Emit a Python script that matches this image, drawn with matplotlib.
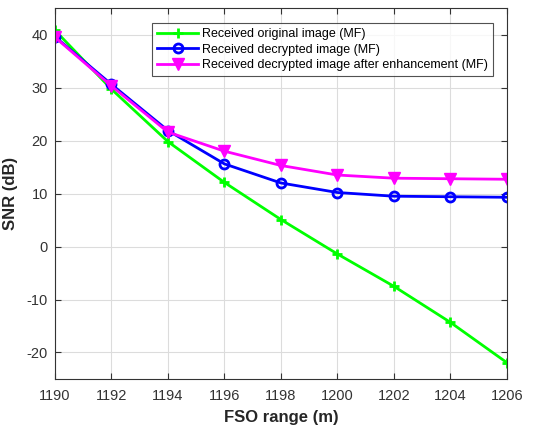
import matplotlib
matplotlib.use("Agg")
import matplotlib.pyplot as plt

plt.rcParams["font.family"] = ["Liberation Sans", "DejaVu Sans"]
plt.rcParams["axes.unicode_minus"] = False

x = [1190, 1192, 1194, 1196, 1198, 1200, 1202, 1204, 1206]
snr_original = [40.8, 29.7, 19.8, 12.1, 5.1, -1.4, -7.5, -14.3, -21.9]
snr_decrypted = [39.6, 30.6, 21.9, 15.6, 12.0, 10.2, 9.5, 9.4, 9.3]
snr_enhanced = [39.5, 30.3, 21.6, 18.0, 15.3, 13.5, 12.9, 12.8, 12.7]
labels = ["Received original image (MF)",
          "Received decrypted image (MF)",
          "Received decrypted image after enhancement (MF)"]

fig = plt.figure(figsize=(5.42, 4.29), dpi=100)
ax = fig.add_axes([0.1015, 0.1166, 0.8335, 0.8644])

ax.plot(x, snr_original, color="#00ff00", lw=2, marker="+", ms=7, mew=2, label=labels[0])
ax.plot(x, snr_decrypted, color="#0000ff", lw=2, marker="o", ms=6.5, mew=2, mfc="none", label=labels[1])
ax.plot(x, snr_enhanced, color="#ff00ff", lw=2, marker="v", ms=8, mfc="#ff00ff", label=labels[2])

ax.set_xlim(1190, 1206)
ax.set_ylim(-25, 45)
ax.set_xticks(x)
ax.set_yticks([-20, -10, 0, 10, 20, 30, 40])
ax.grid(True, color="#dcdcdc", lw=0.8)
ax.set_axisbelow(True)
ax.tick_params(direction="in", top=True, right=True, colors="#333333", labelsize=10.5, length=4)
ax.tick_params(axis="x", pad=7)
ax.tick_params(axis="y", pad=5)
for s in ax.spines.values():
    s.set_color("#333333")
    s.set_linewidth(0.8)
ax.set_xlabel("FSO range (m)", fontsize=12, fontweight="bold", color="#262626", labelpad=5)
ax.set_ylabel("SNR (dB)", fontsize=12, fontweight="bold", color="#262626", labelpad=6)

leg = ax.legend(loc="upper right", bbox_to_anchor=(0.969, 0.96), fontsize=9,
                frameon=True, fancybox=False, edgecolor="#262626",
                borderpad=0.4, labelspacing=0.3, handlelength=3.3, handletextpad=0.3,
                borderaxespad=0)
leg.get_frame().set_linewidth(0.8)

fig.savefig("out.png", dpi=100)
